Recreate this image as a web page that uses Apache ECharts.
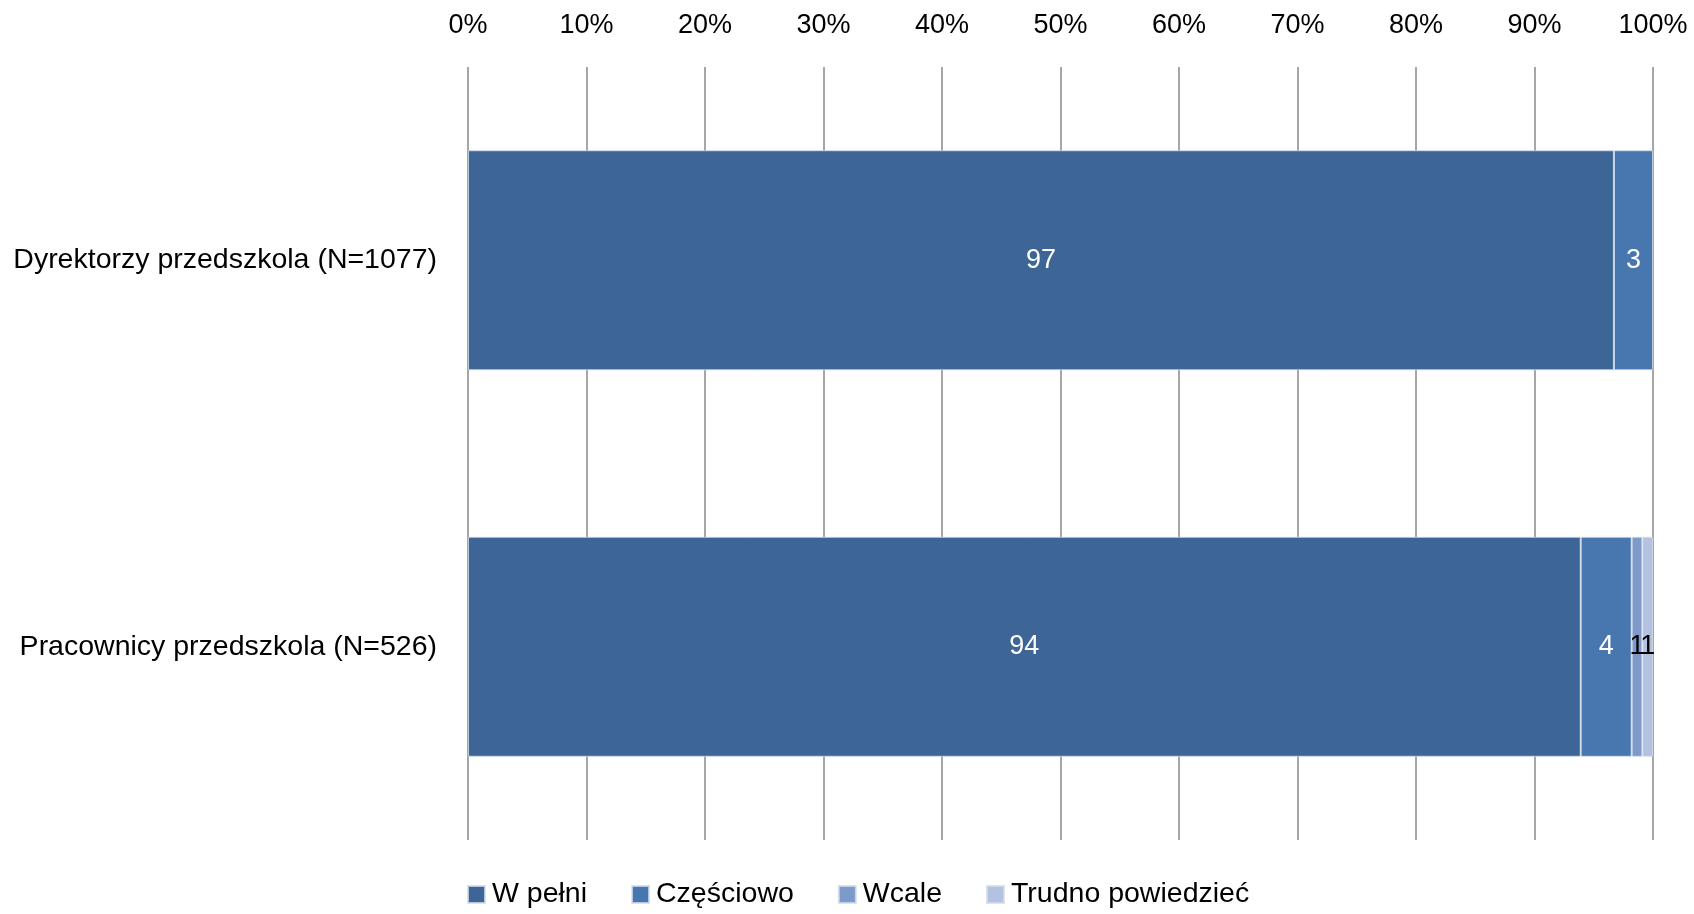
<!DOCTYPE html>
<html>
<head>
<meta charset="utf-8">
<script src="https://cdn.jsdelivr.net/npm/echarts@6/dist/echarts.min.js"></script>
<style>
html,body{margin:0;padding:0;background:#fff;}
#chart{width:1694px;height:914px;}
</style>
</head>
<body>
<div id="chart"></div>
<script>
const categories = ['Dyrektorzy przedszkola (N=1077)', 'Pracownicy przedszkola (N=526)'];
const seriesNames = ['W pełni', 'Częściowo', 'Wcale', 'Trudno powiedzieć'];
const wPelni = [96.7, 93.9];
const czesciowo = [3.3, 4.3];
const wcale = [0, 0.9];
const trudno = [0, 0.9];
const tickValues = [0, 10, 20, 30, 40, 50, 60, 70, 80, 90, 100];

const colors = ['#3D6595', '#4876AF', '#7E9AC8', '#B3C2E0'];
const labelColors = ['#ffffff', '#ffffff', '#000000', '#000000'];
const FONT = 'Liberation Sans';
const dataSets = [wPelni, czesciowo, wcale, trudno];

const chart = echarts.init(document.getElementById('chart'));
chart.setOption({
  animation: false,
  textStyle: { fontFamily: FONT },
  grid: { left: 468, right: 41, top: 67, bottom: 74, containLabel: false },
  xAxis: {
    type: 'value', position: 'top', min: tickValues[0], max: tickValues[tickValues.length - 1], interval: 10,
    axisLine: { show: false }, axisTick: { show: false },
    axisLabel: { formatter: '{value}%', fontSize: 27, color: '#000', fontFamily: FONT, margin: 28 },
    splitLine: { show: true, lineStyle: { color: '#888888', width: 1.5 } }
  },
  yAxis: {
    type: 'category', inverse: true, data: categories,
    axisLine: { show: false }, axisTick: { show: false },
    axisLabel: { fontSize: 28.5, color: '#000', fontFamily: FONT, margin: 31 }
  },
  legend: {
    bottom: 0, left: 462, icon: 'rect', itemWidth: 17, itemHeight: 17, itemGap: 44,
    textStyle: { fontSize: 28.5, color: '#000', fontFamily: FONT, padding: [0, 0, 0, 2] },
    data: seriesNames
  },
  series: seriesNames.map((name, i) => ({
    name, type: 'bar', stack: 'total', barWidth: 220,
    data: dataSets[i].map(v => v === 0 ? null : v),
    itemStyle: { color: colors[i], borderColor: 'rgba(210,220,235,0.8)', borderWidth: 1 },
    label: {
      show: true, position: 'inside', fontSize: 27, color: labelColors[i], fontFamily: FONT,
      formatter: p => Math.round(p.value)
    }
  }))
});
</script>
</body>
</html>
